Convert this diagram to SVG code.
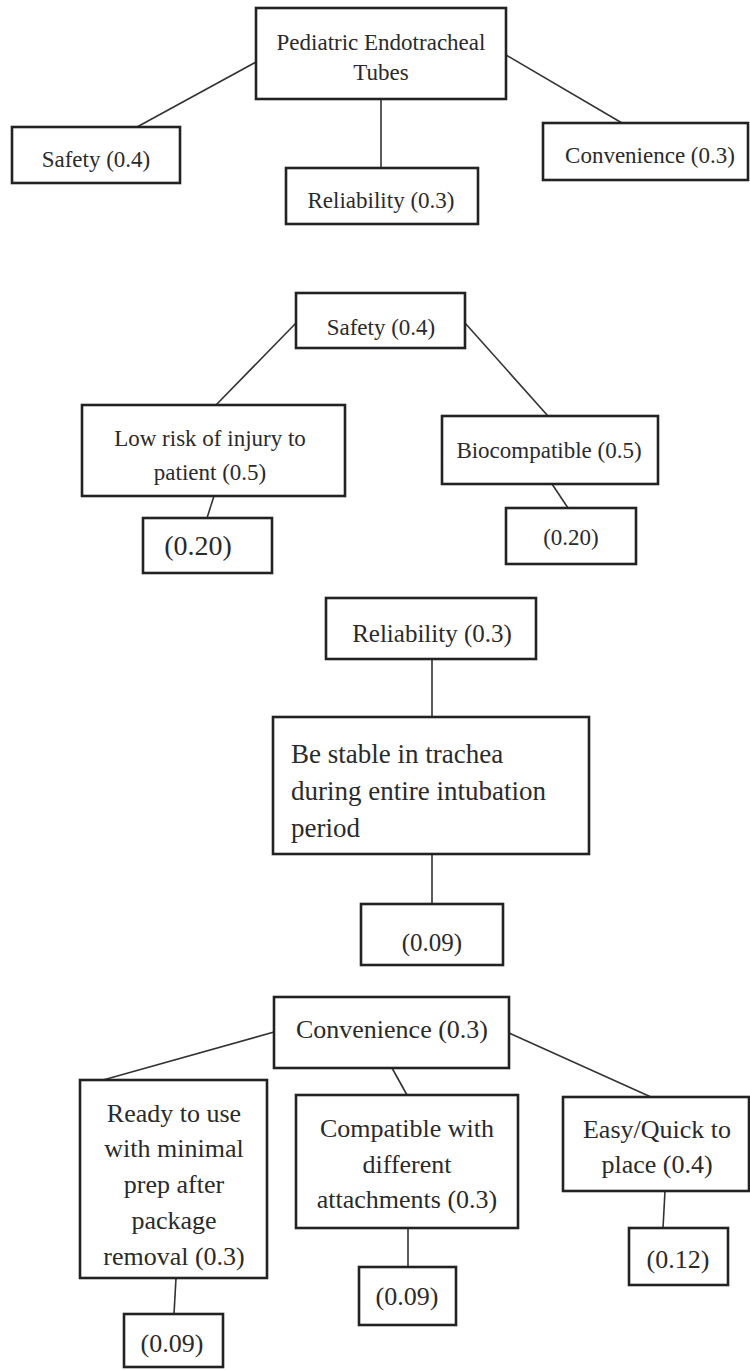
<svg xmlns="http://www.w3.org/2000/svg" width="750" height="1370" viewBox="0 0 750 1370" font-family="'Liberation Serif', Tinos, 'Times New Roman', 'DejaVu Serif', serif">
<style>
.box{fill:#fff;stroke:#222;stroke-width:2.6}
.ln{stroke:#333;stroke-width:1.6;fill:none}
text{font-family:'Liberation Serif', Tinos, 'Times New Roman', 'DejaVu Serif', serif;fill:#2a2a2a;text-anchor:middle}
.f23{font-size:23px}
.f25{font-size:25px}
.f26{font-size:26px}
.f27{font-size:27px}
.f28{font-size:28px}
.st{text-anchor:start}
</style>
<rect width="750" height="1370" fill="#fff"/>
<g id="connectors">
<line class="ln" x1="256" y1="62" x2="137" y2="127"/>
<line class="ln" x1="381" y1="99" x2="381" y2="168"/>
<line class="ln" x1="506" y1="55" x2="622" y2="123"/>
<line class="ln" x1="296" y1="323" x2="216" y2="405"/>
<line class="ln" x1="465" y1="323" x2="548" y2="416"/>
<line class="ln" x1="214" y1="496" x2="207" y2="518"/>
<line class="ln" x1="552" y1="484" x2="568" y2="508"/>
<line class="ln" x1="432" y1="659" x2="432" y2="717"/>
<line class="ln" x1="432" y1="854" x2="432" y2="904"/>
<line class="ln" x1="274" y1="1032" x2="103" y2="1080"/>
<line class="ln" x1="392" y1="1068" x2="407" y2="1095"/>
<line class="ln" x1="509" y1="1033" x2="651" y2="1097"/>
<line class="ln" x1="176" y1="1278" x2="174" y2="1314"/>
<line class="ln" x1="408" y1="1228" x2="408" y2="1267"/>
<line class="ln" x1="665" y1="1191" x2="663" y2="1228"/>
</g>
<g id="root"><rect class="box" x="256" y="8" width="250" height="91"/><text class="f23" x="381" y="50">Pediatric Endotracheal</text><text class="f23" x="381" y="80">Tubes</text></g>
<g id="safety"><rect class="box" x="12" y="127" width="168" height="56"/><text class="f23" x="96" y="167">Safety (0.4)</text></g>
<g id="reliability"><rect class="box" x="286" y="168" width="192" height="56"/><text class="f23" x="381" y="208">Reliability (0.3)</text></g>
<g id="convenience"><rect class="box" x="543" y="123" width="205" height="57"/><text class="f23" x="650" y="163">Convenience (0.3)</text></g>

<g id="safety2"><rect class="box" x="296" y="293" width="169" height="55"/><text class="f23" x="381" y="335">Safety (0.4)</text></g>
<g id="lowrisk"><rect class="box" x="82" y="405" width="263" height="91"/><text class="f23" x="210" y="446">Low risk of injury to</text><text class="f23" x="210" y="480">patient (0.5)</text></g>
<g id="biocompatible"><rect class="box" x="442" y="416" width="216" height="68"/><text class="f23" x="549" y="458">Biocompatible (0.5)</text></g>
<g id="lowrisk-w"><rect class="box" x="143" y="518" width="129" height="55"/><text class="f28" x="198" y="555">(0.20)</text></g>
<g id="bio-w"><rect class="box" x="506" y="508" width="130" height="56"/><text class="f23" x="571" y="545">(0.20)</text></g>

<g id="reliability2"><rect class="box" x="326" y="598" width="210" height="61"/><text class="f25" x="432" y="642">Reliability (0.3)</text></g>
<g id="stable"><rect class="box" x="273" y="717" width="316" height="137"/><text class="f27 st" x="291" y="763">Be stable in trachea</text><text class="f27 st" x="291" y="800">during entire intubation</text><text class="f27 st" x="291" y="837">period</text></g>
<g id="stable-w"><rect class="box" x="361" y="904" width="142" height="61"/><text class="f25" x="432" y="951">(0.09)</text></g>

<g id="convenience2"><rect class="box" x="274" y="997" width="235" height="71"/><text class="f26" x="392" y="1038">Convenience (0.3)</text></g>
<g id="ready"><rect class="box" x="80" y="1080" width="187" height="198"/><text class="f26" x="174" y="1122">Ready to use</text><text class="f26" x="174" y="1157">with minimal</text><text class="f26" x="174" y="1193">prep after</text><text class="f26" x="174" y="1229">package</text><text class="f26" x="174" y="1265">removal (0.3)</text></g>
<g id="compatible"><rect class="box" x="296" y="1095" width="222" height="133"/><text class="f26" x="407" y="1137">Compatible with</text><text class="f26" x="407" y="1173">different</text><text class="f26" x="407" y="1208">attachments (0.3)</text></g>
<g id="easy"><rect class="box" x="563" y="1097" width="186" height="94"/><text class="f26" x="657" y="1138">Easy/Quick to</text><text class="f26" x="657" y="1173">place (0.4)</text></g>
<g id="ready-w"><rect class="box" x="124" y="1314" width="99" height="53"/><text class="f26" x="172" y="1352">(0.09)</text></g>
<g id="compatible-w"><rect class="box" x="359" y="1267" width="97" height="58"/><text class="f26" x="407" y="1305">(0.09)</text></g>
<g id="easy-w"><rect class="box" x="629" y="1228" width="99" height="57"/><text class="f26" x="678" y="1268">(0.12)</text></g>
</svg>
